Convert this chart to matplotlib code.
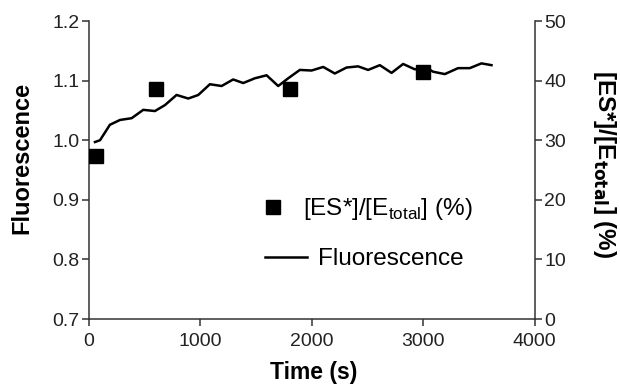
import matplotlib
matplotlib.use("Agg")
import matplotlib.pyplot as plt
from matplotlib.lines import Line2D

plt.rcParams['font.family'] = ['Liberation Sans', 'DejaVu Sans']

# fluorescence trace (left axis)
t_fl = [54, 99, 188, 278, 383, 487, 592, 682, 786, 891, 981, 1085, 1190, 1294,
        1384, 1489, 1594, 1698, 1788, 1892, 1997, 2102, 2206, 2311, 2415, 2505,
        2610, 2715, 2819, 2924, 3013, 3088, 3193, 3312, 3417, 3522, 3612]
fluor = [0.997, 1.000, 1.026, 1.034, 1.037, 1.051, 1.049, 1.059, 1.076, 1.070,
         1.076, 1.094, 1.091, 1.102, 1.096, 1.104, 1.109, 1.091, 1.104, 1.118,
         1.117, 1.123, 1.112, 1.122, 1.124, 1.118, 1.126, 1.113, 1.128, 1.119,
         1.123, 1.115, 1.111, 1.121, 1.121, 1.129, 1.126]

# [ES*]/[Etotal] points (right axis)
t_es = [60, 600, 1800, 3000]
es_pct = [27.3, 38.6, 38.6, 41.5]

axcol = '#333333'

fig = plt.figure(figsize=(6.2, 3.9), dpi=100)
ax = fig.add_axes([0.1435, 0.182, 0.719, 0.764])
ax2 = ax.twinx()

ax.plot(t_fl, fluor, color='black', lw=1.8, zorder=3)
ax2.plot(t_es, es_pct, ls='none', marker='s', ms=10.5, color='black', zorder=4)

ax.set_xlim(0, 4000)
ax.set_ylim(0.7, 1.2)
ax2.set_ylim(0, 50)
ax.set_xticks([0, 1000, 2000, 3000, 4000])
ax.set_yticks([0.7, 0.8, 0.9, 1.0, 1.1, 1.2])
ax.set_yticklabels(['0.7', '0.8', '0.9', '1.0', '1.1', '1.2'])
ax2.set_yticks([0, 10, 20, 30, 40, 50])

for a in (ax, ax2):
    a.spines['top'].set_visible(False)
    for s in a.spines.values():
        s.set_linewidth(1.1)
        s.set_color(axcol)
    a.tick_params(direction='out', length=5, width=1.1, color=axcol,
                  labelsize=14, labelcolor='#222222', pad=2)
ax.tick_params(axis='x', pad=5)
ax2.spines['left'].set_visible(False)
ax2.spines['bottom'].set_visible(False)
ax.spines['right'].set_visible(False)

ax.set_xlabel('Time (s)', fontsize=16.5, fontweight='bold')
ax.xaxis.set_label_coords(0.505, -0.142)
ax.set_ylabel('Fluorescence', fontsize=17, fontweight='bold')
ax.yaxis.set_label_coords(-0.125, 0.54)
ax2.set_ylabel(r'[ES*]/[E$_{\mathbf{total}}$] (%)', fontsize=17.5,
               fontweight='bold', rotation=270, va='center')
ax2.yaxis.set_label_coords(1.157, 0.52)

# two legend entries placed separately, as in the original
leg1 = ax.legend([Line2D([], [], ls='none', marker='s', ms=10, color='black')],
                 [r'[ES*]/[E$_{\mathregular{total}}$] (%)'],
                 frameon=False, fontsize=17.5, loc='center left',
                 bbox_to_anchor=(0.3857, 0.369), handlelength=1.0,
                 handletextpad=0.75, borderpad=0, borderaxespad=0)
ax.add_artist(leg1)
ax.legend([Line2D([], [], color='black', lw=1.8)], ['Fluorescence'],
          frameon=False, fontsize=17.5, loc='center left',
          bbox_to_anchor=(0.3946, 0.201), handlelength=1.72,
          handletextpad=0.45, borderpad=0, borderaxespad=0)

fig.savefig('out.png', dpi=100)
